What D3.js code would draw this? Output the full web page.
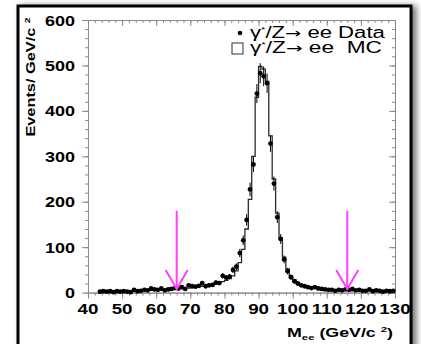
<!DOCTYPE html>
<html>
<head>
<meta charset="utf-8">
<script src="https://cdn.jsdelivr.net/npm/d3@7"></script>
<style>
body { margin: 0; background: #fff; }
svg { display: block; }
text { font-family: "Liberation Sans", Arial, Helvetica, sans-serif; }
</style>
</head>
<body>
<svg id="chart" width="421" height="344"></svg>
<script>
// 1 GeV bins, centres from 43.5 to 129.5
var firstBin = 43.5,
    binWidth = 1;

var dataCounts = [
    2, 3, 2, 3, 1, 3, 2, 3, 2, 1,
    6, 3, 4, 6, 5, 9, 7, 6, 9, 5,
    7, 8, 10, 9, 12, 8, 16, 14, 13, 15,
    21, 14, 16, 17, 22, 21, 37, 33, 35, 50,
    57, 87, 115, 160, 227, 282, 438, 483, 476, 461,
    328, 240, 166, 118, 73, 47, 34, 25, 20, 16,
    14, 12, 10, 12, 9, 8, 7, 6, 6, 4,
    6, 5, 7, 6, 8, 5, 6, 4, 4, 7,
    3, 5, 4, 2, 4, 3, 4
];

var mcCounts = [
    2, 2, 2, 2, 3, 3, 3, 3, 3, 4,
    4, 4, 4, 5, 5, 5, 6, 6, 6, 7,
    7, 8, 8, 9, 9, 10, 10, 11, 12, 13,
    14, 15, 16, 17, 19, 21, 24, 27, 31, 37,
    48, 66, 95, 140, 205, 300, 430, 498, 492, 465,
    345, 250, 175, 118, 78, 52, 37, 28, 22, 17,
    14, 12, 11, 10, 9, 8, 7, 7, 6, 6,
    5, 5, 5, 5, 4, 4, 4, 4, 4, 4,
    3, 3, 3, 3, 3, 3, 3
];

var cutMass = [66, 116],
    arrowTop = 180,
    arrowTip = 8;

var xTicks = [40, 50, 60, 70, 80, 90, 100, 110, 120, 130],
    yTicks = [0, 100, 200, 300, 400, 500, 600];

var svg = d3.select("#chart");

var x = d3.scaleLinear().domain([40, 130]).range([88, 395]),
    y = d3.scaleLinear().domain([0, 600]).range([292.6, 20]);

var bins = dataCounts.map(function(d, i) {
    return {m: firstBin + i * binWidth, data: d, mc: mcCounts[i]};
});

// outer frame with shadow
var defs = svg.append("defs");
var f = defs.append("filter").attr("id", "shadow")
    .attr("x", "-10%").attr("y", "-10%").attr("width", "130%").attr("height", "130%");
f.append("feDropShadow")
    .attr("dx", 4).attr("dy", 1).attr("stdDeviation", 3)
    .attr("flood-color", "#000").attr("flood-opacity", 0.55);

svg.append("rect")
    .attr("x", 18).attr("y", 6)
    .attr("width", 393).attr("height", 400)
    .attr("fill", "#fff")
    .attr("stroke", "#000")
    .attr("stroke-width", 3)
    .attr("filter", "url(#shadow)");

// axes
var axisColor = "#8a8a8a";
var minorX = d3.range(40, 131, 2),
    minorY = d3.range(0, 601, 20);

function styleAxis(g) {
    g.selectAll("path, line").attr("stroke", axisColor);
    g.selectAll("text").remove();
}

[y(0), y(600)].forEach(function(py) {
    svg.append("g").attr("transform", "translate(0," + py + ")")
        .call(d3.axisBottom(x).tickValues(minorX).tickSize(3).tickSizeOuter(0))
        .call(styleAxis);
    svg.append("g").attr("transform", "translate(0," + py + ")")
        .call(d3.axisBottom(x).tickValues(xTicks).tickSize(6).tickSizeOuter(0))
        .call(styleAxis);
});
[x(40), x(130)].forEach(function(px) {
    svg.append("g").attr("transform", "translate(" + px + ",0)")
        .call(d3.axisLeft(y).tickValues(minorY).tickSize(3).tickSizeOuter(0))
        .call(styleAxis);
    svg.append("g").attr("transform", "translate(" + px + ",0)")
        .call(d3.axisLeft(y).tickValues(yTicks).tickSize(6).tickSizeOuter(0))
        .call(styleAxis);
});

// tick labels (the original has horizontally stretched lettering)
svg.selectAll(".xlab")
    .data(xTicks)
    .enter().append("g")
        .attr("transform", function(d) { return "translate(" + x(d) + ",314)"; })
    .append("text")
        .attr("text-anchor", "middle")
        .attr("transform", "scale(1.25,1)")
        .style("font-size", "15px")
        .style("font-weight", "bold")
        .text(function(d) { return d; });

svg.selectAll(".ylab")
    .data(yTicks)
    .enter().append("g")
        .attr("transform", function(d) { return "translate(75," + (y(d) + 5.5) + ")"; })
    .append("text")
        .attr("text-anchor", "end")
        .attr("transform", "scale(1.2,1)")
        .style("font-size", "15px")
        .style("font-weight", "bold")
        .text(function(d) { return d; });

function fit(t, w) {
    var bw = t.node().getBBox().width;
    t.attr("transform", "scale(" + (w / bw) + ",1)");
}

// axis titles
var ytitle = svg.append("g")
    .attr("transform", "translate(35,77) rotate(-90)")
    .append("text")
        .attr("text-anchor", "middle")
        .style("font-size", "12.5px")
        .style("font-weight", "bold");
ytitle.append("tspan").text("Events/ GeV/c ");
ytitle.append("tspan").attr("dy", -5).style("font-size", "8px").text("2");
fit(ytitle, 120);

var xtitle = svg.append("g")
    .attr("transform", "translate(340,337)")
    .append("text")
        .attr("text-anchor", "middle")
        .style("font-size", "12.5px")
        .style("font-weight", "bold");
xtitle.append("tspan").text("M");
xtitle.append("tspan").attr("dy", 3).style("font-size", "8px").text("ee");
xtitle.append("tspan").attr("dy", -3).text(" (GeV/c ");
xtitle.append("tspan").attr("dy", -5).style("font-size", "8px").text("2");
xtitle.append("tspan").attr("dy", 5).text(")");
fit(xtitle, 106);

// MC histogram
var stepPts = bins.map(function(b) { return [b.m - binWidth / 2, b.mc]; });
stepPts.push([bins[bins.length - 1].m + binWidth / 2, bins[bins.length - 1].mc]);

svg.append("path")
    .datum(stepPts)
    .attr("fill", "none")
    .attr("stroke", "#2a2a2a")
    .attr("stroke-width", 1.3)
    .attr("d", d3.line()
        .x(function(d) { return x(d[0]); })
        .y(function(d) { return y(d[1]); })
        .curve(d3.curveStepAfter));

// data points with error bars
svg.selectAll(".err")
    .data(bins)
    .enter().append("line")
        .attr("x1", function(d) { return x(d.m); })
        .attr("x2", function(d) { return x(d.m); })
        .attr("y1", function(d) { return y(d.data + Math.sqrt(d.data)); })
        .attr("y2", function(d) { return y(Math.max(0, d.data - Math.sqrt(d.data))); })
        .attr("stroke", "#000")
        .attr("stroke-width", 1);

svg.selectAll(".dot")
    .data(bins)
    .enter().append("circle")
        .attr("cx", function(d) { return x(d.m); })
        .attr("cy", function(d) { return y(d.data); })
        .attr("r", 2.4)
        .attr("fill", "#000");

// cut arrows
var arrows = svg.selectAll(".arrow")
    .data(cutMass)
    .enter().append("g")
        .attr("stroke", "#ff40ff")
        .attr("stroke-width", 2)
        .attr("fill", "none");

arrows.append("line")
    .attr("x1", function(d) { return x(d); })
    .attr("x2", function(d) { return x(d); })
    .attr("y1", y(arrowTop))
    .attr("y2", y(arrowTip));

arrows.append("path")
    .attr("d", function(d) {
        var px = x(d), py = y(arrowTip);
        return "M" + (px - 11) + "," + (py - 19) + "L" + px + "," + py + "L" + (px + 11) + "," + (py - 19);
    });

// legend
svg.append("circle")
    .attr("cx", 240).attr("cy", 33).attr("r", 2.3)
    .attr("fill", "#000");
svg.append("rect")
    .attr("x", 232).attr("y", 43)
    .attr("width", 11).attr("height", 11)
    .attr("fill", "none")
    .attr("stroke", "#333")
    .attr("stroke-width", 1);

var legendRows = [
    {y: 38, label: " ee Data", w: 135},
    {y: 53, label: " ee  MC", w: 132}
];

legendRows.forEach(function(r) {
    var t = svg.append("g")
        .attr("transform", "translate(250," + r.y + ")")
        .append("text")
            .style("font-size", "16px")
            .style("white-space", "pre");
    t.append("tspan").text("\u03b3");
    t.append("tspan").attr("dy", -6).style("font-size", "8px").text("*");
    t.append("tspan").attr("dy", 6).text("/Z");
    t.append("tspan").style("font-family", "DejaVu Sans").style("font-size", "14px").text("\u2192");
    t.append("tspan").text(r.label);
    fit(t, r.w);
});
</script>
</body>
</html>
